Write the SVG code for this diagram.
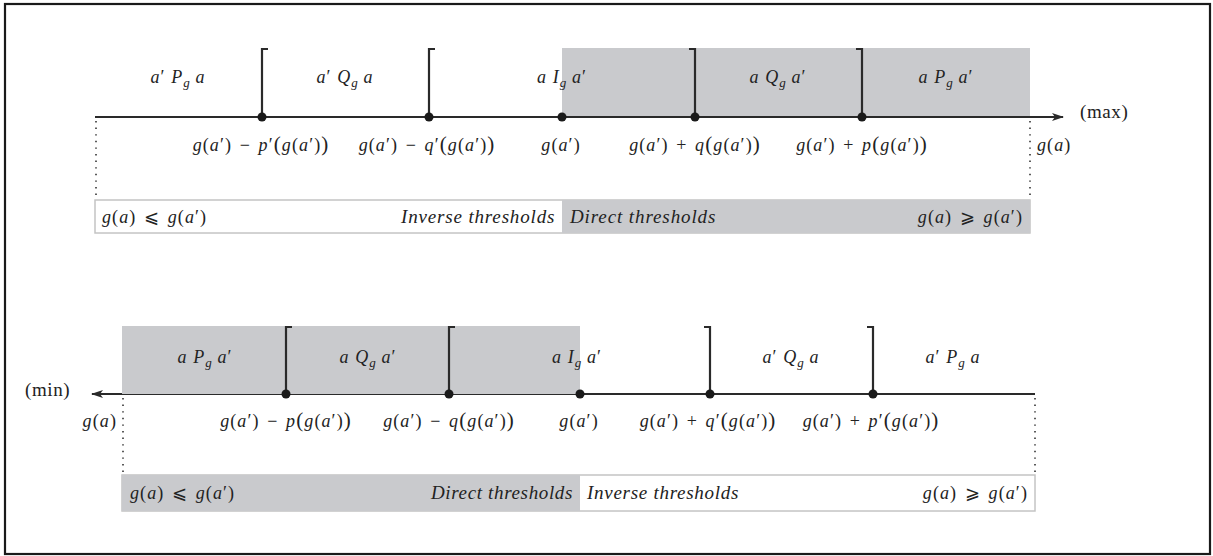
<svg xmlns="http://www.w3.org/2000/svg" width="1213" height="556" viewBox="0 0 1213 556">
<style>
.frame{fill:#fff;stroke:#1a1a1a;stroke-width:2.2}
.ax{stroke:#2a2a2a;stroke-width:2;fill:none}
.br{stroke:#2a2a2a;stroke-width:2.2;fill:none}
.dot{fill:#1a1a1a}
.dt{stroke:#333;stroke-width:1.6;stroke-dasharray:1.4 5.2;fill:none}
.gray{fill:#c9cacd}
.box{fill:#fff;stroke:#c4c4c4;stroke-width:1.5}
.t{font-family:"Liberation Serif","DejaVu Serif",serif;font-size:18px;letter-spacing:1.1px;fill:#222}
.w{font-size:19px;letter-spacing:0.6px}
.i{font-style:italic}
.s{font-size:13px;letter-spacing:0}
.bp{font-size:21px}
</style>
<defs>
<marker id="arr" viewBox="0 0 12 8" refX="11" refY="4" markerWidth="12" markerHeight="8" markerUnits="userSpaceOnUse" orient="auto">
<path d="M0,0 L12,4 L0,8 L3,4 Z" fill="#2a2a2a"/>
</marker>
</defs>
<rect class="frame" x="5" y="4" width="1205" height="550"/>

<!-- TOP DIAGRAM -->
<g id="top-shading"><rect class="gray" x="562" y="48" width="468" height="69"/></g>
<g id="top-box">
<rect class="box" x="95" y="200" width="935" height="33"/>
<rect class="gray" x="562" y="200" width="468" height="33"/>
<text class="t" x="102" y="223"><tspan class="i">g</tspan>(<tspan class="i">a</tspan>) <tspan dx="2">⩽</tspan> <tspan class="i" dx="2">g</tspan>(<tspan class="i">a</tspan>′)</text>
<text class="t w i" x="555" y="223" text-anchor="end" textLength="154">Inverse thresholds</text>
<text class="t w i" x="570" y="223" textLength="146">Direct thresholds</text>
<text class="t" x="1023" y="223" text-anchor="end"><tspan class="i">g</tspan>(<tspan class="i">a</tspan>) <tspan dx="2">⩾</tspan> <tspan class="i" dx="2">g</tspan>(<tspan class="i">a</tspan>′)</text>
</g>
<g id="connectors">
<line class="ax" x1="95" y1="117" x2="1063" y2="117" marker-end="url(#arr)"/>
<line class="dt" x1="96" y1="121" x2="96" y2="200"/>
<line class="dt" x1="1030" y1="121" x2="1030" y2="200"/>
<line class="ax" x1="1035" y1="394" x2="92" y2="394" marker-end="url(#arr)"/>
<line class="dt" x1="123" y1="398" x2="123" y2="475"/>
<line class="dt" x1="1035" y1="398" x2="1035" y2="475"/>
</g>
<g id="top-t1"><path class="br" d="M268,49 H262 V117"/><circle class="dot" cx="262" cy="117" r="4.5"/>
<text class="t" x="261" y="151" text-anchor="middle"><tspan class="i">g</tspan>(<tspan class="i">a</tspan>′) <tspan dx="2">−</tspan> <tspan class="i" dx="2">p</tspan>′<tspan class="bp">(</tspan><tspan class="i">g</tspan>(<tspan class="i">a</tspan>′)<tspan class="bp">)</tspan></text></g>
<g id="top-t2"><path class="br" d="M435,49 H429 V117"/><circle class="dot" cx="429" cy="117" r="4.5"/>
<text class="t" x="427" y="151" text-anchor="middle"><tspan class="i">g</tspan>(<tspan class="i">a</tspan>′) <tspan dx="2">−</tspan> <tspan class="i" dx="2">q</tspan>′<tspan class="bp">(</tspan><tspan class="i">g</tspan>(<tspan class="i">a</tspan>′)<tspan class="bp">)</tspan></text></g>
<g id="top-t3"><circle class="dot" cx="562" cy="117" r="4.5"/>
<text class="t" x="561" y="151" text-anchor="middle"><tspan class="i">g</tspan>(<tspan class="i">a</tspan>′)</text></g>
<g id="top-t4"><path class="br" d="M689,49 H695 V117"/><circle class="dot" cx="695" cy="117" r="4.5"/>
<text class="t" x="695" y="151" text-anchor="middle"><tspan class="i">g</tspan>(<tspan class="i">a</tspan>′) <tspan dx="2">+</tspan> <tspan class="i" dx="2">q</tspan><tspan class="bp">(</tspan><tspan class="i">g</tspan>(<tspan class="i">a</tspan>′)<tspan class="bp">)</tspan></text></g>
<g id="top-t5"><path class="br" d="M856,49 H862 V117"/><circle class="dot" cx="862" cy="117" r="4.5"/>
<text class="t" x="862" y="151" text-anchor="middle"><tspan class="i">g</tspan>(<tspan class="i">a</tspan>′) <tspan dx="2">+</tspan> <tspan class="i" dx="2">p</tspan><tspan class="bp">(</tspan><tspan class="i">g</tspan>(<tspan class="i">a</tspan>′)<tspan class="bp">)</tspan></text></g>
<g id="top-labels">
<text class="t" x="178" y="83" text-anchor="middle"><tspan class="i">a</tspan>′ <tspan class="i">P</tspan><tspan class="i s" dy="4">g</tspan><tspan dy="-4"> </tspan><tspan class="i">a</tspan></text>
<text class="t" x="345" y="83" text-anchor="middle"><tspan class="i">a</tspan>′ <tspan class="i">Q</tspan><tspan class="i s" dy="4">g</tspan><tspan dy="-4"> </tspan><tspan class="i">a</tspan></text>
<text class="t" x="562" y="83" text-anchor="middle"><tspan class="i">a I</tspan><tspan class="i s" dy="4">g</tspan><tspan dy="-4"> </tspan><tspan class="i">a</tspan>′</text>
<text class="t" x="778" y="83" text-anchor="middle"><tspan class="i">a Q</tspan><tspan class="i s" dy="4">g</tspan><tspan dy="-4"> </tspan><tspan class="i">a</tspan>′</text>
<text class="t" x="946" y="83" text-anchor="middle"><tspan class="i">a P</tspan><tspan class="i s" dy="4">g</tspan><tspan dy="-4"> </tspan><tspan class="i">a</tspan>′</text>
<text class="t w" x="1080" y="118">(max)</text>
<text class="t" x="1037" y="151"><tspan class="i">g</tspan>(<tspan class="i">a</tspan>)</text>
</g>

<!-- BOTTOM DIAGRAM -->
<g id="bottom-shading"><rect class="gray" x="122" y="326" width="458" height="68"/></g>
<g id="bottom-box">
<rect class="box" x="122" y="475" width="913" height="36"/>
<rect class="gray" x="122" y="475" width="458" height="36"/>
<text class="t" x="130" y="499"><tspan class="i">g</tspan>(<tspan class="i">a</tspan>) <tspan dx="2">⩽</tspan> <tspan class="i" dx="2">g</tspan>(<tspan class="i">a</tspan>′)</text>
<text class="t w i" x="573" y="499" text-anchor="end" textLength="142">Direct thresholds</text>
<text class="t w i" x="587" y="499" textLength="152">Inverse thresholds</text>
<text class="t" x="1028" y="499" text-anchor="end"><tspan class="i">g</tspan>(<tspan class="i">a</tspan>) <tspan dx="2">⩾</tspan> <tspan class="i" dx="2">g</tspan>(<tspan class="i">a</tspan>′)</text>
</g>
<g id="bot-t1"><path class="br" d="M292,327 H286 V394"/><circle class="dot" cx="286" cy="394" r="4.5"/>
<text class="t" x="286" y="427" text-anchor="middle"><tspan class="i">g</tspan>(<tspan class="i">a</tspan>′) <tspan dx="2">−</tspan> <tspan class="i" dx="2">p</tspan><tspan class="bp">(</tspan><tspan class="i">g</tspan>(<tspan class="i">a</tspan>′)<tspan class="bp">)</tspan></text></g>
<g id="bot-t2"><path class="br" d="M455,327 H449 V394"/><circle class="dot" cx="449" cy="394" r="4.5"/>
<text class="t" x="449" y="427" text-anchor="middle"><tspan class="i">g</tspan>(<tspan class="i">a</tspan>′) <tspan dx="2">−</tspan> <tspan class="i" dx="2">q</tspan><tspan class="bp">(</tspan><tspan class="i">g</tspan>(<tspan class="i">a</tspan>′)<tspan class="bp">)</tspan></text></g>
<g id="bot-t3"><circle class="dot" cx="580" cy="394" r="4.5"/>
<text class="t" x="579" y="427" text-anchor="middle"><tspan class="i">g</tspan>(<tspan class="i">a</tspan>′)</text></g>
<g id="bot-t4"><path class="br" d="M704,327 H710 V394"/><circle class="dot" cx="710" cy="394" r="4.5"/>
<text class="t" x="708" y="427" text-anchor="middle"><tspan class="i">g</tspan>(<tspan class="i">a</tspan>′) <tspan dx="2">+</tspan> <tspan class="i" dx="2">q</tspan>′<tspan class="bp">(</tspan><tspan class="i">g</tspan>(<tspan class="i">a</tspan>′)<tspan class="bp">)</tspan></text></g>
<g id="bot-t5"><path class="br" d="M867,327 H873 V394"/><circle class="dot" cx="873" cy="394" r="4.5"/>
<text class="t" x="871" y="427" text-anchor="middle"><tspan class="i">g</tspan>(<tspan class="i">a</tspan>′) <tspan dx="2">+</tspan> <tspan class="i" dx="2">p</tspan>′<tspan class="bp">(</tspan><tspan class="i">g</tspan>(<tspan class="i">a</tspan>′)<tspan class="bp">)</tspan></text></g>
<g id="bottom-labels">
<text class="t" x="205" y="363" text-anchor="middle"><tspan class="i">a P</tspan><tspan class="i s" dy="4">g</tspan><tspan dy="-4"> </tspan><tspan class="i">a</tspan>′</text>
<text class="t" x="368" y="363" text-anchor="middle"><tspan class="i">a Q</tspan><tspan class="i s" dy="4">g</tspan><tspan dy="-4"> </tspan><tspan class="i">a</tspan>′</text>
<text class="t" x="577" y="363" text-anchor="middle"><tspan class="i">a I</tspan><tspan class="i s" dy="4">g</tspan><tspan dy="-4"> </tspan><tspan class="i">a</tspan>′</text>
<text class="t" x="791" y="363" text-anchor="middle"><tspan class="i">a</tspan>′ <tspan class="i">Q</tspan><tspan class="i s" dy="4">g</tspan><tspan dy="-4"> </tspan><tspan class="i">a</tspan></text>
<text class="t" x="953" y="363" text-anchor="middle"><tspan class="i">a</tspan>′ <tspan class="i">P</tspan><tspan class="i s" dy="4">g</tspan><tspan dy="-4"> </tspan><tspan class="i">a</tspan></text>
<text class="t w" x="25" y="396">(min)</text>
<text class="t" x="117" y="427" text-anchor="end"><tspan class="i">g</tspan>(<tspan class="i">a</tspan>)</text>
</g>
</svg>
